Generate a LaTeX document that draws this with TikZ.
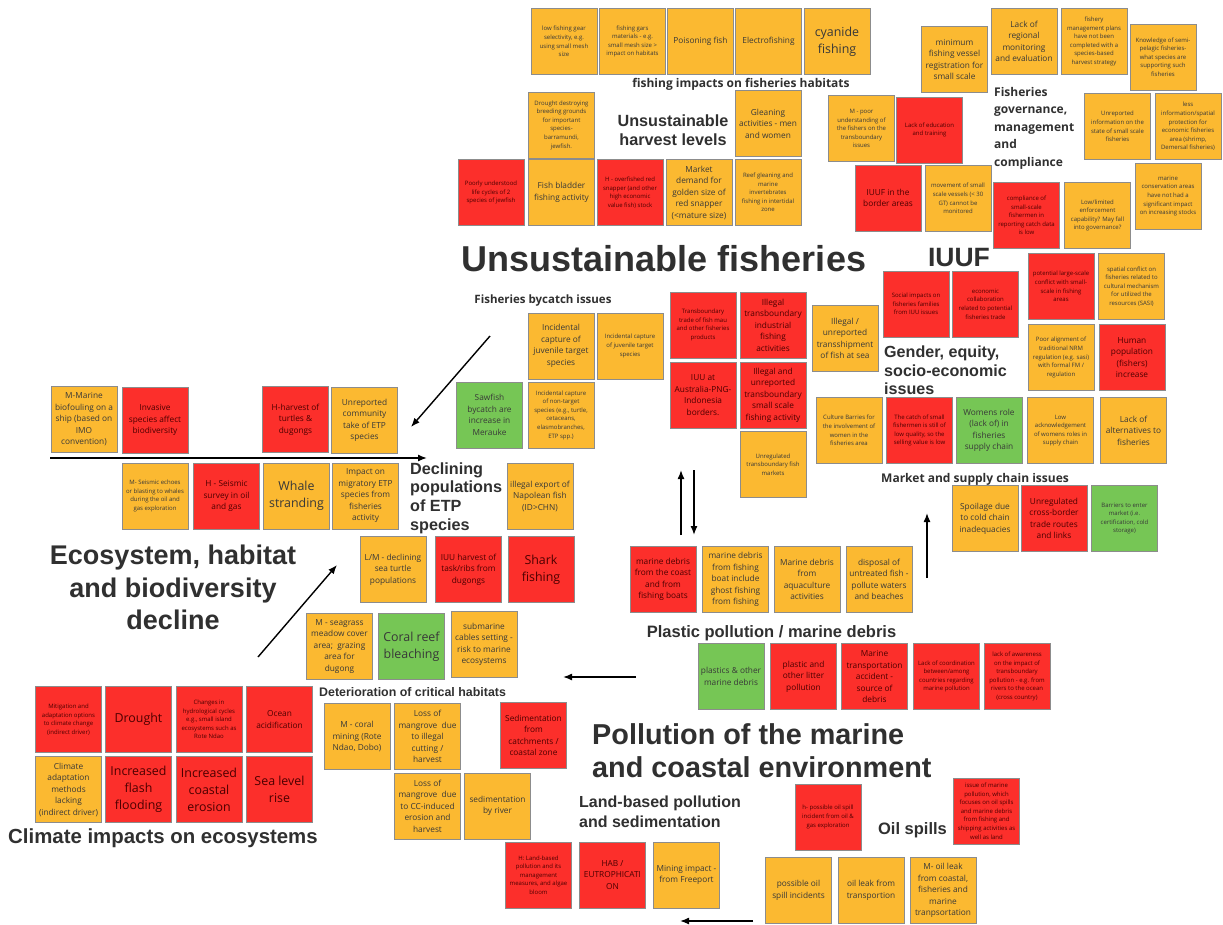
\documentclass[tikz,border=0pt]{standalone}
\usepackage{fontspec}
\setmainfont{Open Sans}
\newfontfamily\arialfont{Liberation Sans}
\usepackage{xcolor}
\usetikzlibrary{arrows.meta}
\definecolor{stickyorange}{HTML}{FBB931}
\definecolor{stickyred}{HTML}{FC2F2B}
\definecolor{stickygreen}{HTML}{76C655}
\definecolor{headgray}{HTML}{303030}

\begin{document}
\begin{tikzpicture}[x=1pt, y=-1pt,
  sticky/.style={draw=black!45, line width=0.9pt, minimum width=66pt, minimum height=66pt,
    inner sep=1pt, align=center, text=black!78},
  orng/.style={sticky, fill=stickyorange},
  rd/.style={sticky, fill=stickyred, text=red!30!black},
  grn/.style={sticky, fill=stickygreen},
  ts/.style={font=\fontsize{6}{8.6}\selectfont},
  tm/.style={font=\fontsize{8.3}{11.5}\selectfont},
  tl/.style={font=\fontsize{12.4}{17}\selectfont},
  hd/.style 2 args={font=\arialfont\bfseries\fontsize{#1}{#2}\selectfont, text=headgray, inner sep=0pt},
  hs/.style 2 args={font=\bfseries\fontsize{#1}{#2}\selectfont, text=headgray, inner sep=0pt},
  arr/.style={-{Latex[length=9pt,width=7pt]}, line width=1.4pt}
]
\fill[white] (0,0) rectangle (1223,924);
\useasboundingbox (0,0) rectangle (1223,924);

% fishing impacts on fisheries habitats
\node[orng, ts] (hab1) at (564,41.5) {low fishing gear\\selectivity, e.g.\\using small mesh\\size};
\node[orng, ts] (hab2) at (632.5,41.5) {fishing gars\\materials - e.g.\\small mesh size >\\impact on habitats};
\node[orng, tm] (hab3) at (700.5,41.5) {Poisoning fish};
\node[orng, tm] (hab4) at (768.5,41.5) {Electrofishing};
\node[orng, tl] (hab5) at (837,41.5) {cyanide\\fishing};
\node[hs={12}{15}, anchor=base] (habT) at (741,87) {fishing impacts on fisheries habitats};

% governance
\node[orng, tm] (gov1) at (954.5,59.5) {minimum\\fishing vessel\\registration for\\small scale};
\node[orng, tm] (gov2) at (1024,41.5) {Lack of\\regional\\monitoring\\and evaluation};
\node[orng, ts] (gov3) at (1094,41.5) {fishery\\management plans\\have not been\\completed with a\\species-based\\harvest strategy};
\node[orng, ts] (gov4) at (1163,57) {Knowledge of semi-\\pelagic fisheries-\\what species are\\supporting such\\fisheries};
\node[hs={12}{17.5}, anchor=west, align=left] (govT) at (994,128) {Fisheries\\governance,\\management\\and\\compliance};
\node[orng, ts] (gov5) at (861.5,128.5) {M - poor\\understanding of\\the fishers on the\\transboundary\\issues};
\node[rd, ts] (gov6) at (929.5,130) {Lack of education\\and training};
\node[orng, ts] (gov7) at (1117.5,126.5) {Unreported\\information on the\\state of small scale\\fisheries};
\node[orng, ts] (gov8) at (1188,126.5) {less\\information/spatial\\protection for\\economic fisheries\\area (shrimp,\\Demersal fisheries)};
\node[rd, tm] (gov9) at (888,198) {IUUF in the\\border areas};
\node[orng, ts] (gov10) at (958,198.5) {movement of small\\scale vessels (< 30\\GT) cannot be\\monitored};
\node[rd, ts] (gov11) at (1026.5,215.5) {compliance of\\small-scale\\fishermen in\\reporting catch data\\is low};
\node[orng, ts] (gov12) at (1097.5,215.5) {Low/limited\\enforcement\\capability? May fall\\into governance?};
\node[orng, ts] (gov13) at (1168,196) {marine\\conservation areas\\have not had a\\significant impact\\on increasing stocks};

% unsustainable harvest levels
\node[orng, ts] (har1) at (561.5,125) {Drought destroying\\breeding grounds\\for important\\species-\\barramundi,\\jewfish.};
\node[hd={16.2}{19}, align=center] (harT) at (673,130.5) {Unsustainable\\harvest levels};
\node[orng, tm] (har2) at (768,123.5) {Gleaning\\activities - men\\and women};
\node[rd, ts] (har3) at (491,192.5) {Poorly understood\\life cycles of 2\\species of jewfish};
\node[orng, tm] (har4) at (561.5,192.5) {Fish bladder\\fishing activity};
\node[rd, ts] (har5) at (630,192.5) {H - overfished red\\snapper (and other\\high economic\\value fish) stock};
\node[orng, tm] (har6) at (699,192.5) {Market\\demand for\\golden size of\\red snapper\\(<mature size)};
\node[orng, ts] (har7) at (768,192.5) {Reef gleaning and\\marine\\invertebrates\\fishing in intertidal\\zone};

\node[hd={36}{40}, anchor=base] (mainT) at (664,271) {Unsustainable fisheries};
\node[hd={26.5}{30}, anchor=base] (iuuT) at (959,266) {IUUF};

% gender, equity, socio-economic
\node[rd, ts] (soc1) at (916,304) {Social impacts on\\fisheries families\\from IUU issues};
\node[rd, ts] (soc2) at (985.5,304) {economic\\collaboration\\related to potential\\fisheries trade};
\node[rd, ts] (soc3) at (1061,286.5) {potential large-scale\\conflict with small-\\scale in fishing\\areas};
\node[orng, ts] (soc4) at (1131.5,286.5) {spatial conflict on\\fisheries related to\\cultural mechanism\\for utilized the\\resources (SASI)};
\node[orng, ts] (soc5) at (1061,357.5) {Poor alignment of\\traditional NRM\\regulation (e.g. sasi)\\with formal FM /\\regulation};
\node[rd, tm] (soc6) at (1132,357.5) {Human\\population\\(fishers)\\increase};
\node[hd={16.1}{18.3}, anchor=west, align=left] (socT) at (884,370.5) {Gender, equity,\\socio-economic\\issues};
\node[orng, ts] (soc7) at (849,430.5) {Culture Barries for\\the involvement of\\women in the\\fisheries area};
\node[rd, ts] (soc8) at (919.5,430.5) {The catch of small\\fishermen is still of\\low quality, so the\\selling value is low};
\node[grn, tm] (soc9) at (989,430.5) {Womens role\\(lack of) in\\fisheries\\supply chain};
\node[orng, ts] (soc10) at (1060.5,430.5) {Low\\acknowledgement\\of womens roles in\\supply chain};
\node[orng, tm] (soc11) at (1133.5,430.5) {Lack of\\alternatives to\\fisheries};

% market and supply chain
\node[hs={12}{15}, anchor=base west] (mktT) at (881,482) {Market and supply chain issues};
\node[orng, tm] (mkt1) at (985,518.5) {Spoilage due\\to cold chain\\inadequacies};
\node[rd, tm] (mkt2) at (1054,518.5) {Unregulated\\cross-border\\trade routes\\and links};
\node[grn, ts] (mkt3) at (1124.5,518.5) {Barriers to enter\\market (i.e.\\certification, cold\\storage)};
\coordinate (mktA) at (927,578);
\coordinate (mktB) at (927,513);
\draw[arr] (mktA) -- (mktB);

% bycatch and transboundary
\node[hs={11.5}{14}, anchor=base] (byT) at (543,303) {Fisheries bycatch issues};
\node[orng, tm] (by1) at (561,346) {Incidental\\capture of\\juvenile target\\species};
\node[orng, ts] (by2) at (630,346) {Incidental capture\\of juvenile target\\species};
\node[grn, tm] (by3) at (489.5,415) {Sawfish\\bycatch are\\increase in\\Merauke};
\node[orng, ts] (by4) at (561,415) {Incidental capture\\of non-target\\species (e.g., turtle,\\cetaceans,\\elasmobranches,\\ETP spp.)};
\node[rd, ts] (tb1) at (703,325) {Transboundary\\trade of fish mau\\and other fisheries\\products};
\node[rd, tm] (tb2) at (773,325) {Illegal\\transboundary\\industrial\\fishing\\activities};
\node[orng, tm] (tb3) at (845,338.5) {Illegal /\\unreported\\transshipment\\of fish at sea};
\node[rd, tm] (tb4) at (703,395) {IUU at\\Australia-PNG-\\Indonesia\\borders.};
\node[rd, tm] (tb5) at (773,395) {Illegal and\\unreported\\transboundary\\small scale\\fishing activity};
\node[orng, ts] (tb6) at (773,464.5) {Unregulated\\transboundary fish\\markets};
\coordinate (upA) at (681,535);
\coordinate (upB) at (681,470);
\coordinate (dnA) at (694,470);
\coordinate (dnB) at (694,535);
\draw[arr] (upA) -- (upB);
\draw[arr] (dnA) -- (dnB);

% declining populations of ETP species
\node[orng, tm] (etp1) at (84,419.5) {M-Marine\\biofouling on a\\ship (based on\\IMO\\convention)};
\node[rd, tm] (etp2) at (155,420) {Invasive\\species affect\\biodiversity};
\node[rd, tm] (etp3) at (295.5,419.5) {H-harvest of\\turtles \&\\dugongs};
\node[orng, tm] (etp4) at (364.5,420.5) {Unreported\\community\\take of ETP\\species};
\coordinate (lineA) at (50,458);
\coordinate (lineB) at (427,458);
\draw[arr] (lineA) -- (lineB);
\node[orng, ts] (etp5) at (155,496) {M- Seismic echoes\\or blasting to whales\\during the oil and\\gas exploration};
\node[rd, tm] (etp6) at (226.5,496) {H - Seismic\\survey in oil\\and gas};
\node[orng, tl] (etp7) at (296.5,496) {Whale\\stranding};
\node[orng, tm] (etp8) at (365.5,496) {Impact on\\migratory ETP\\species from\\fisheries\\activity};
\node[hd={16.2}{18.7}, anchor=west, align=left] (etpT) at (410,498) {Declining\\populations\\of ETP\\species};
\node[orng, tm] (etp9) at (540,496) {illegal export of\\Napolean fish\\(ID>CHN)};
\coordinate (byA) at (490,336);
\coordinate (byB) at (411,427);
\draw[arr] (byA) -- (byB);

\node[hd={27}{32.5}, align=center] (ecoT) at (173,587.5) {Ecosystem, habitat\\and biodiversity\\decline};

% deterioration of critical habitats
\node[orng, tm] (crit1) at (393,569.5) {L/M - declining\\sea turtle\\populations};
\node[rd, tm] (crit2) at (468.5,569.5) {IUU harvest of\\task/ribs from\\dugongs};
\node[rd, tl] (crit3) at (541,569.5) {Shark\\fishing};
\coordinate (ecoA) at (258,657);
\coordinate (ecoB) at (337,565);
\draw[arr] (ecoA) -- (ecoB);
\node[orng, tm] (crit4) at (339.5,646.5) {M - seagrass\\meadow cover\\area;\ \ grazing\\area for\\dugong};
\node[grn, tl] (crit5) at (411.5,646.5) {Coral reef\\bleaching};
\node[orng, tm] (crit6) at (484,644.5) {submarine\\cables setting -\\risk to marine\\ecosystems};
\node[hd={12.4}{15}, anchor=base west] (critT) at (319,696) {Deterioration of critical habitats};
\node[orng, tm] (crit7) at (357,736.5) {M - coral\\mining (Rote\\Ndao, Dobo)};
\node[orng, tm] (crit8) at (427.5,736.5) {Loss of\\mangrove\ \ due\\to illegal\\cutting /\\harvest};
\node[rd, tm] (crit9) at (533.5,735.5) {Sedimentation\\from\\catchments /\\coastal zone};
\node[orng, tm] (crit10) at (427.5,806) {Loss of\\mangrove\ \ due\\to CC-induced\\erosion and\\harvest};
\node[orng, tm] (crit11) at (497.5,806) {sedimentation\\by river};

% climate impacts
\node[rd, ts] (clim1) at (68.5,719.5) {Mitigation and\\adaptation options\\to climate change\\(indirect driver)};
\node[rd, tl] (clim2) at (138.5,719.5) {Drought};
\node[rd, ts] (clim3) at (209,719.5) {Changes in\\hydrological cycles\\e.g., small island\\ecosystems such as\\Rote Ndao};
\node[rd, tm] (clim4) at (279.5,719.5) {Ocean\\acidification};
\node[orng, tm] (clim5) at (68.5,789.5) {Climate\\adaptation\\methods\\lacking\\(indirect driver)};
\node[rd, tl] (clim6) at (138.5,789.5) {Increased\\flash\\flooding};
\node[rd, tl] (clim7) at (209,789.5) {Increased\\coastal\\erosion};
\node[rd, tl] (clim8) at (279.5,789.5) {Sea level\\rise};
\node[hd={20.4}{24}, anchor=base] (climT) at (163,843) {Climate impacts on ecosystems};

% plastic pollution / marine debris
\node[rd, tm] (pla1) at (663,579.5) {marine debris\\from the coast\\and from\\fishing boats};
\node[orng, tm] (pla2) at (735.5,579.5) {marine debris\\from fishing\\boat include\\ghost fishing\\from fishing};
\node[orng, tm] (pla3) at (807,579.5) {Marine debris\\from\\aquaculture\\activities};
\node[orng, tm] (pla4) at (879,579.5) {disposal of\\untreated fish -\\pollute waters\\and beaches};
\node[hd={16.5}{19}, anchor=base] (plaT) at (771.5,637) {Plastic pollution / marine debris};
\node[grn, tm] (pla5) at (731,676.5) {plastics \& other\\marine debris};
\node[rd, tm] (pla6) at (803.5,676.5) {plastic and\\other litter\\pollution};
\node[rd, tm] (pla7) at (874.5,676.5) {Marine\\transportation\\accident -\\source of\\debris};
\node[rd, ts] (pla8) at (946.5,676.5) {Lack of coordination\\between/among\\countries regarding\\marine pollution};
\node[rd, ts] (pla9) at (1017,676.5) {lack of awareness\\on the impact of\\transboundary\\pollution - e.g. from\\rivers to the ocean\\(cross country)};
\coordinate (plaA) at (636,677);
\coordinate (plaB) at (563,677);
\draw[arr] (plaA) -- (plaB);

\node[hd={28.8}{33}, anchor=west, align=left] (polT) at (592,751) {Pollution of the marine\\and coastal environment};

% land-based pollution and sedimentation
\node[hd={16}{20}, anchor=west, align=left] (landT) at (579,812) {Land-based pollution\\and sedimentation};
\node[rd, ts] (land1) at (538.5,875) {H: Land-based\\pollution and its\\management\\measures, and algae\\bloom};
\node[rd, tm] (land2) at (612.5,875) {HAB /\\EUTROPHICATI\\ON};
\node[orng, tm] (land3) at (686.5,875) {Mining impact -\\from Freeport};

% oil spills
\node[rd, ts] (oil1) at (828,817) {h- possible oil spill\\incident from oil \&\\gas exploration};
\node[hd={16.5}{19}, anchor=base] (oilT) at (912.5,834) {Oil spills};
\node[rd, ts] (oil2) at (986.5,811) {issue of marine\\pollution, which\\focuses on oil spills\\and marine debris\\from fishing and\\shipping activities as\\well as land};
\node[orng, tm] (oil3) at (798.5,890.5) {possible oil\\spill incidents};
\node[orng, tm] (oil4) at (871,890.5) {oil leak from\\transportion};
\node[orng, tm] (oil5) at (943,890.5) {M- oil leak\\from coastal,\\fisheries and\\marine\\tranpsortation};
\coordinate (oilA) at (753,921);
\coordinate (oilB) at (680,921);
\draw[arr] (oilA) -- (oilB);
\end{tikzpicture}
\end{document}
